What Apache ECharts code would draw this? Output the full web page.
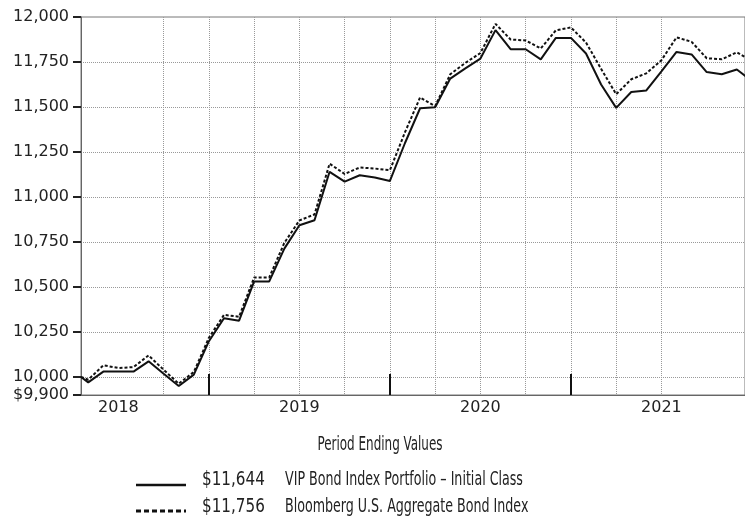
<!DOCTYPE html>
<html>
<head>
<meta charset="utf-8">
<script src="https://cdn.jsdelivr.net/npm/echarts@6/dist/echarts.min.js"></script>
<style>
html, body { margin: 0; padding: 0; background: #fff; }
#chart { width: 745px; height: 525px; }
</style>
</head>
<body>
<div id="chart"></div>
<script>
// x = months after Dec 2017 (first point is the mid-April 2018 start)
const startMonth = 3.52
const monthEnds = []
for (let m = 4; m <= 48; m++) monthEnds.push(m)
const xValues = [startMonth].concat(monthEnds)

const portfolioName = 'VIP Bond Index Portfolio – Initial Class'
const indexName = 'Bloomberg U.S. Aggregate Bond Index'
const portfolioEnd = '$11,644'
const indexEnd = '$11,756'

const portfolio = [10000,
    9970, 10030, 10030, 10030, 10087, 10018, 9950, 10013, 10199,
    10326, 10313, 10531, 10531, 10713, 10843, 10871, 11140, 11085, 11121, 11108, 11089,
    11300, 11493, 11499, 11658, 11715, 11769, 11927, 11821, 11821, 11765, 11884, 11884,
    11797, 11625, 11495, 11583, 11592, 11698, 11806, 11792, 11694, 11682, 11708, 11644]

const bondIndex = [10000,
    9985, 10065, 10050, 10055, 10120, 10040, 9963, 10028, 10218,
    10345, 10335, 10553, 10553, 10745, 10870, 10903, 11185, 11128, 11164, 11158, 11149,
    11360, 11553, 11505, 11682, 11745, 11800, 11962, 11875, 11870, 11825, 11926, 11942,
    11858, 11712, 11571, 11654, 11687, 11760, 11887, 11862, 11771, 11765, 11804, 11756]

const yTicks = [9900, 10000, 10250, 10500, 10750, 11000, 11250, 11500, 11750, 12000]
const quarterLines = [6, 9, 12, 15, 18, 21, 24, 27, 30, 33, 36, 39, 42, 45]
const yearTicks = [12, 24, 36]
const yearLabelPos = [6, 18, 30, 42]
const yearLabels = ['2018', '2019', '2020', '2021']

const chart = echarts.init(document.getElementById('chart'))

const xMin = startMonth
const xMax = 47.54
const legendFont = '19px "DejaVu Sans Condensed", "Liberation Sans Narrow", sans-serif'

chart.setOption({
    animation: false,
    grid: {
        left: 81,
        top: 17,
        right: -2,
        bottom: 130,
        show: true,
        borderColor: '#777',
        borderWidth: 1
    },
    xAxis: [{
        type: 'value',
        min: xMin,
        max: xMax,
        position: 'bottom',
        axisLine: { lineStyle: { color: '#666', width: 1 } },
        axisTick: { show: false, customValues: quarterLines },
        splitLine: {
            show: true,
            showMinLine: false,
            showMaxLine: false,
            lineStyle: { color: '#999', type: [1, 1], width: 1 }
        },
        axisLabel: {
            customValues: yearLabelPos,
            formatter: v => yearLabels[yearLabelPos.indexOf(v)],
            margin: 5,
            color: '#222',
            fontFamily: 'DejaVu Sans',
            fontSize: 16
        }
    }, {
        type: 'value',
        min: xMin,
        max: xMax,
        position: 'bottom',
        axisLine: { show: false },
        axisTick: {
            customValues: yearTicks,
            inside: true,
            length: 21,
            lineStyle: { color: '#111', width: 2 }
        },
        splitLine: { show: false },
        axisLabel: { show: false }
    }],
    yAxis: {
        type: 'value',
        min: 9900,
        max: 12000,
        axisLine: { show: true, lineStyle: { color: '#666', width: 1 } },
        axisTick: {
            show: true,
            customValues: yTicks,
            length: 8,
            lineStyle: { color: '#222', width: 2 }
        },
        splitLine: {
            show: true,
            showMinLine: false,
            showMaxLine: false,
            lineStyle: { color: '#999', type: [1, 1], width: 1 }
        },
        axisLabel: {
            customValues: yTicks,
            formatter: v => (v === 9900 ? '$' : '') + v.toLocaleString('en-US'),
            margin: 12,
            color: '#222',
            fontFamily: 'DejaVu Sans',
            fontSize: 16
        }
    },
    series: [{
        name: portfolioName,
        type: 'line',
        symbol: 'none',
        data: xValues.map((x, i) => [x, portfolio[i]]),
        lineStyle: { color: '#111', width: 2 },
        z: 3
    }, {
        name: indexName,
        type: 'line',
        symbol: 'none',
        data: xValues.map((x, i) => [x, bondIndex[i]]),
        lineStyle: { color: '#111', width: 2, type: [3, 2] },
        z: 2
    }],
    graphic: [{
        type: 'text',
        x: 380, y: 445,
        scaleX: 0.70,
        style: {
            text: 'Period Ending Values',
            font: legendFont,
            fill: '#222',
            align: 'center',
            verticalAlign: 'middle'
        }
    }, {
        type: 'line',
        shape: { x1: 136, y1: 485, x2: 186, y2: 485 },
        style: { stroke: '#111', lineWidth: 2.5 }
    }, {
        type: 'text',
        x: 202, y: 480,
        scaleX: 0.89,
        style: {
            text: portfolioEnd,
            font: legendFont,
            fill: '#222',
            verticalAlign: 'middle'
        }
    }, {
        type: 'text',
        x: 285, y: 480,
        scaleX: 0.74,
        style: {
            text: portfolioName,
            font: legendFont,
            fill: '#222',
            verticalAlign: 'middle'
        }
    }, {
        type: 'line',
        shape: { x1: 136, y1: 511, x2: 186, y2: 511 },
        style: { stroke: '#111', lineWidth: 3, lineDash: [5, 3] }
    }, {
        type: 'text',
        x: 202, y: 507,
        scaleX: 0.89,
        style: {
            text: indexEnd,
            font: legendFont,
            fill: '#222',
            verticalAlign: 'middle'
        }
    }, {
        type: 'text',
        x: 285, y: 507,
        scaleX: 0.74,
        style: {
            text: indexName,
            font: legendFont,
            fill: '#222',
            verticalAlign: 'middle'
        }
    }]
})
</script>
</body>
</html>
